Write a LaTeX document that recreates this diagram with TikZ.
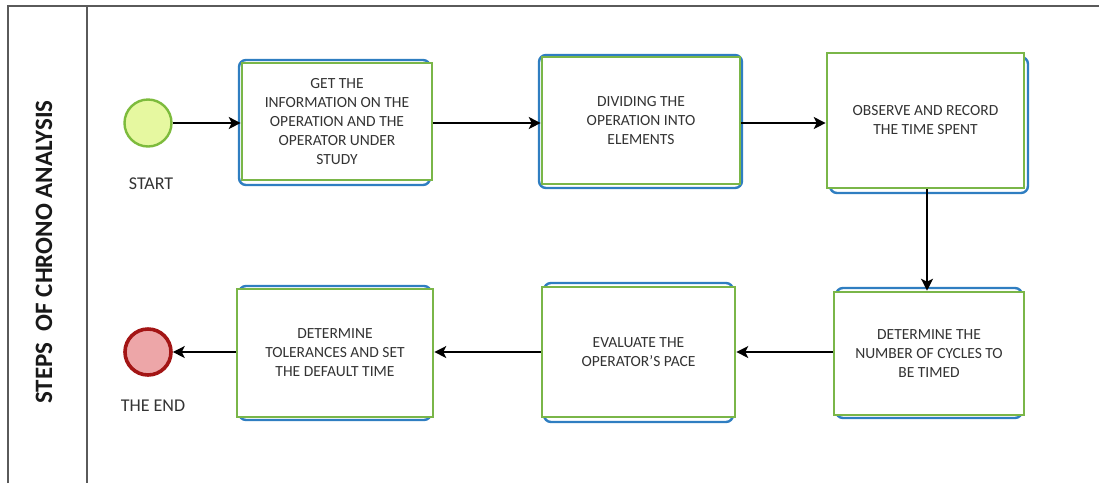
\documentclass[tikz,border=0pt]{standalone}
\usepackage{fontspec}
\setmainfont{Carlito}
\usetikzlibrary{arrows.meta}
\definecolor{stepgreen}{HTML}{7AB648}
\definecolor{stepblue}{HTML}{2F7EC1}
\definecolor{poolgray}{HTML}{5A5A5A}
\definecolor{startfill}{HTML}{E6F8A0}
\definecolor{startline}{HTML}{7DBB3C}
\definecolor{endfill}{HTML}{EDA6A8}
\definecolor{endline}{HTML}{A31515}
\tikzset{
  pool/.style={draw=poolgray, line width=1.8pt},
  backplate/.style={draw=stepblue, line width=2.4pt, rounded corners=7pt},
  stepbox/.style={draw=stepgreen, line width=2.6pt, fill=white, align=center,
    inner sep=0pt, font=\fontsize{15.5}{19}\selectfont, text=black!80},
  startev/.style={circle, draw=startline, line width=2.4pt, fill=startfill, minimum size=47pt, inner sep=0pt},
  endev/.style={circle, draw=endline, line width=3.6pt, fill=endfill, minimum size=46pt, inner sep=0pt},
  evlabel/.style={font=\fontsize{18}{21}\selectfont, text=black!80},
  flow/.style={-{Stealth[length=12pt, width=12pt, inset=3pt]}, line width=1.3pt, black}
}
\begin{document}
\begin{tikzpicture}[x=1pt, y=-1pt]
\useasboundingbox (0,0) rectangle (1099,483);
% pool and lane frame
\draw[pool] (8,483) -- (8,6) -- (1099,6);
\draw[pool] (87,6) -- (87,483);
\node[rotate=90, font=\bfseries\fontsize{25}{28}\selectfont, text=black!90] (lane) at (44,252) {STEPS \ OF CHRONO ANALYSIS};

% blue backing plates
\draw[backplate] (239,60) rectangle (430,185);
\draw[backplate] (539,55) rectangle (742,188);
\draw[backplate] (830,57) rectangle (1028,193);
\draw[backplate] (836,288) rectangle (1022,418);
\draw[backplate] (544,283) rectangle (733,422);
\draw[backplate] (239,286) rectangle (431,420);

% events
\node[startev] (start) at (148,123) {};
\node[evlabel] (startlbl) at (151,184) {START};
\node[endev] (end) at (148,352) {};
\node[evlabel] (endlbl) at (153,406) {THE END};

% steps
\node[stepbox, minimum width=190pt, minimum height=117pt] (s1) at (337,121.5)
  {GET THE\\INFORMATION ON THE\\OPERATION AND THE\\OPERATOR UNDER\\STUDY};
\node[stepbox, minimum width=198pt, minimum height=127pt] (s2) at (641,120.5)
  {DIVIDING THE\\OPERATION INTO\\ELEMENTS};
\node[stepbox, minimum width=197pt, minimum height=135pt] (s3) at (925.5,120.5)
  {OBSERVE AND RECORD\\THE TIME SPENT};
\node[stepbox, minimum width=190pt, minimum height=123pt] (s4) at (929,353.5)
  {DETERMINE THE\\NUMBER OF CYCLES TO\\BE TIMED};
\node[stepbox, minimum width=193pt, minimum height=130pt] (s5) at (638.5,352)
  {EVALUATE THE\\OPERATOR'S PACE};
\node[stepbox, minimum width=196pt, minimum height=128pt] (s6) at (335,353)
  {DETERMINE\\TOLERANCES AND SET\\THE DEFAULT TIME};

% sequence flows
\draw[flow] (start.east) -- (s1.west |- start.east);
\draw[flow] (s1.east |- start.east) -- (s2.west |- start.east);
\draw[flow] (s2.east |- start.east) -- (s3.west |- start.east);
\draw[flow] (s3.south -| 927,0) -- (s4.north -| 927,0);
\draw[flow] (s4.west |- end.east) -- (s5.east |- end.east);
\draw[flow] (s5.west |- end.east) -- (s6.east |- end.east);
\draw[flow] (s6.west |- end.east) -- (end.east);
\end{tikzpicture}
\end{document}
